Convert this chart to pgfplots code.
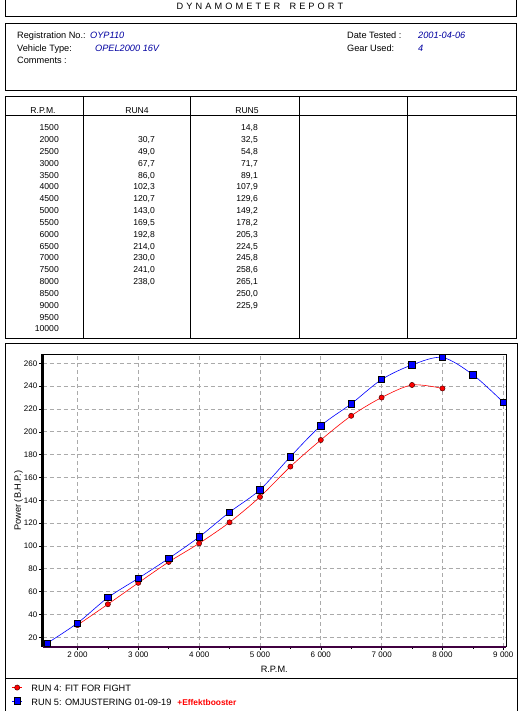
\documentclass[border=0pt]{standalone}
\usepackage{pgfplots}
\pgfplotsset{compat=1.18}
\usepackage{fontspec}
\setmainfont{Liberation Sans}
\definecolor{navyval}{RGB}{0,0,160}
\definecolor{axpurple}{RGB}{64,0,64}
\definecolor{gridgray}{RGB}{170,170,170}
\newcommand{\sz}{\fontsize{9.2}{11}\selectfont}
\newcommand{\nz}{\fontsize{8.6}{10}\selectfont}
\newcommand{\g}{\hspace{3.1pt}}
\begin{document}
\begin{tikzpicture}[x=1pt,y=1pt,font=\sz,every node/.style={inner sep=0pt}]
\path[use as bounding box] (0,0) rectangle (525,711);
% title box
\draw[line width=1pt] (5,711) -- (5,711-17) -- (516,711-17) -- (516,711);
\node[anchor=base] at (260,711-10) {D\g Y\g N\g A\g M\g O\g M\g E\g T\g E\g R\g\g\g R\g E\g P\g O\g R\g T};
% info box
\draw[line width=1pt] (5,711-24) rectangle (516,711-91);
\node[anchor=base west] at (17,711-39) {Registration No.:};
\node[anchor=base west] at (17,711-51.7) {Vehicle Type:};
\node[anchor=base west] at (17,711-64) {Comments :};
\node[anchor=base west,text=navyval] at (90,711-39) {\itshape OYP110};
\node[anchor=base west,text=navyval] at (95,711-51.7) {\itshape OPEL2000 16V};
\node[anchor=base west] at (347,711-39) {Date Tested :};
\node[anchor=base west] at (347,711-51.7) {Gear Used:};
\node[anchor=base west,text=navyval] at (418,711-39) {\itshape 2001-04-06};
\node[anchor=base west,text=navyval] at (418,711-51.7) {\itshape 4};
% table box
\draw[line width=1pt] (5,711-97) rectangle (516,711-339);
\draw[line width=0.8pt] (5,711-115.7) -- (516,711-115.7);
\foreach \cx in {83,190,299,407} \draw[line width=0.8pt] (\cx,711-97) -- (\cx,711-339);
\node[anchor=base,font=\nz] at (43,711-113.3) {R.P.M.};
\node[anchor=base,font=\nz] at (137,711-113.3) {RUN4};
\node[anchor=base,font=\nz] at (247,711-113.3) {RUN5};
\foreach \r [count=\i from 0] in {1500,2000,2500,3000,3500,4000,4500,5000,5500,6000,6500,7000,7500,8000,8500,9000,9500,10000}
  \node[anchor=base east,font=\nz] at (59,711-130.7-11.84*\i) {\r};
\foreach \v [count=\i from 1] in {{30,7},{49,0},{67,7},{86,0},{102,3},{120,7},{143,0},{169,5},{192,8},{214,0},{230,0},{241,0},{238,0}}
  \node[anchor=base east,font=\nz] at (155,711-130.7-11.84*\i) {\v};
\foreach \v [count=\i from 0] in {{14,8},{32,5},{54,8},{71,7},{89,1},{107,9},{129,6},{149,2},{178,2},{205,3},{224,5},{245,8},{258,6},{265,1},{250,0},{225,9}}
  \node[anchor=base east,font=\nz] at (258,711-130.7-11.84*\i) {\v};
% chart box
\draw[line width=1pt] (5,0) -- (5,711-344) -- (517,711-344) -- (517,0);
\draw[line width=1pt] (5,711-679) -- (517,711-679);
\begin{axis}[
    at={(42.5pt,64.3pt)}, anchor=south west,
    width=463.5pt, height=292.2pt, scale only axis,
    xmin=1425, xmax=9045, ymin=11.8, ymax=267.7,
    xtick={2000,3000,...,9000}, minor x tick num=1,
    ytick={20,40,...,260},
    tick align=outside, major tick length=3pt, minor tick length=2pt,
    tick style={black, line width=0.5pt},
    xtick pos=bottom, ytick pos=left,
    grid=major,
    major grid style={gridgray, line width=0.7pt, dash pattern=on 4pt off 3pt},
    axis line style={black, line width=0.6pt},
    ticklabel style={font=\fontsize{8}{9}\selectfont, inner sep=2pt},
    /pgf/number format/assume math mode=true,
    /pgf/number format/.cd, 1000 sep={\hspace{0.3em}}, /pgfplots/.cd,
    xlabel={R.P.M.}, ylabel={Power (B.H.P.)},
    label style={font=\sz},
    every axis x label/.style={at={(axis description cs:0.5,-0.076)}, anchor=center},
    every axis y label/.style={at={(axis description cs:-0.052,0.5)}, rotate=90, anchor=center},
    clip=false,
    legend style={at={(axis description cs:-0.0665,-0.125)}, anchor=north west,
        draw=none, fill=none, font=\sz, inner sep=0pt, row sep=1.5pt,
        cells={anchor=west},
        /tikz/every odd column/.append style={column sep=7pt}},
    legend image code/.code={\draw[mark repeat=2,mark phase=2,#1] plot coordinates {(0pt,1.8pt) (5pt,1.8pt) (10pt,1.8pt)};},
]
\addplot[red, line width=0.6pt, smooth, tension=0.5,
    mark=*, mark size=2.6pt, mark options={fill=red, draw=black!70!red, line width=0.5pt}]
  coordinates {(2000,30.7) (2500,49.0) (3000,67.7) (3500,86.0) (4000,102.3) (4500,120.7) (5000,143.0) (5500,169.5) (6000,192.8) (6500,214.0) (7000,230.0) (7500,241.0) (8000,238.0)};
\addlegendentry{RUN 4: FIT FOR FIGHT}
\addplot[blue, line width=0.6pt, smooth, tension=0.5,
    mark=square*, mark size=3.2pt, mark options={fill=blue, draw=black, line width=0.7pt}]
  coordinates {(1500,14.8) (2000,32.5) (2500,54.8) (3000,71.7) (3500,89.1) (4000,107.9) (4500,129.6) (5000,149.2) (5500,178.2) (6000,205.3) (6500,224.5) (7000,245.8) (7500,258.6) (8000,265.1) (8500,250.0) (9000,225.9)};
\addlegendentry{RUN 5: OMJUSTERING 01-09-19\hspace{6pt}\textcolor{red}{\bfseries\fontsize{8.4}{9}\selectfont +Effektbooster}}
\draw[black, line width=2pt] (rel axis cs:0,0) -- (rel axis cs:0,1);
\draw[axpurple, line width=2pt] (rel axis cs:0,0) -- (rel axis cs:1,0);
\end{axis}
\end{tikzpicture}
\end{document}
